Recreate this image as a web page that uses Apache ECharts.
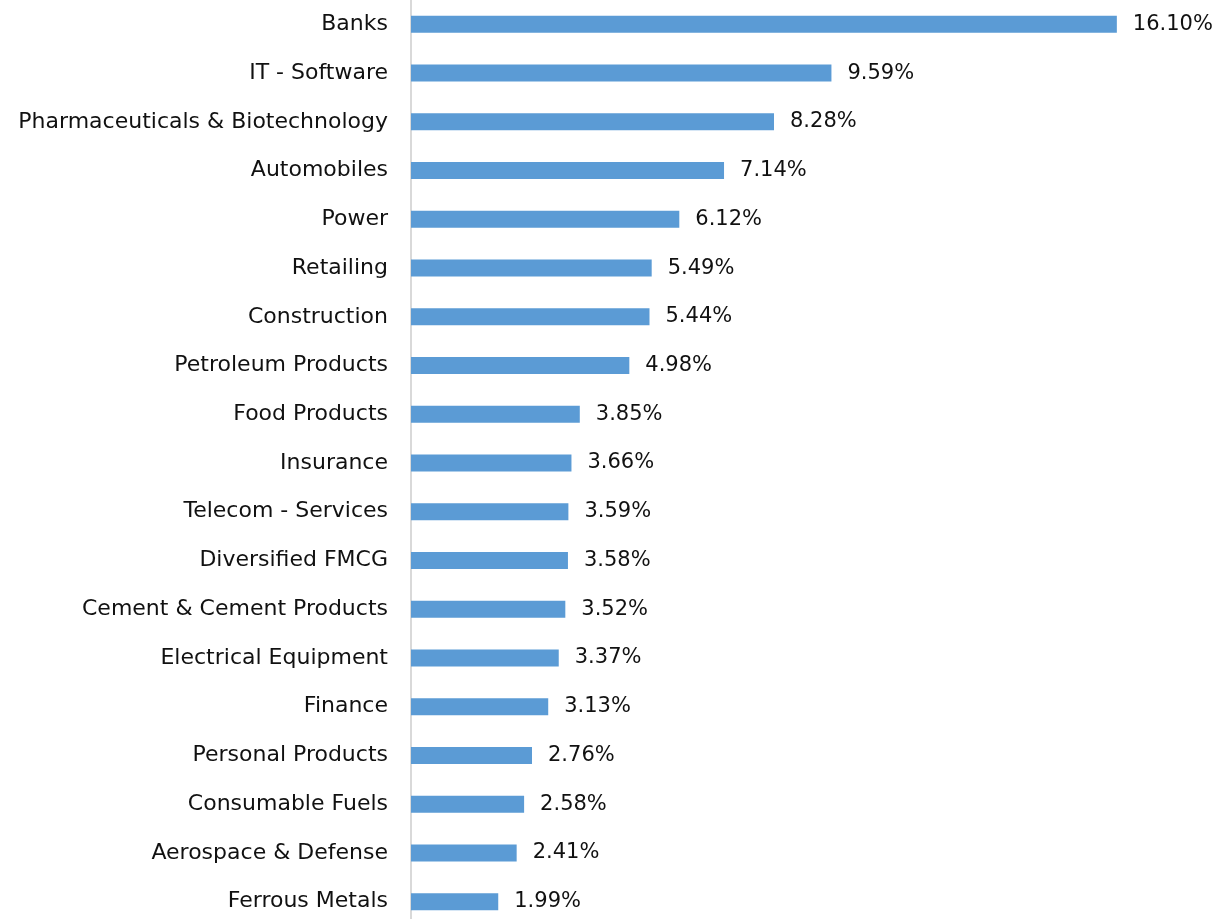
<!DOCTYPE html>
<html>
<head>
<meta charset="utf-8">
<script src="https://cdn.jsdelivr.net/npm/echarts@6/dist/echarts.min.js"></script>
<style>
  html, body { margin: 0; padding: 0; background: #ffffff; }
  #chart { width: 1212px; height: 919px; }
</style>
</head>
<body>
<div id="chart"></div>
<script>
// Sector allocation, listed from largest to smallest weight
const sectors = [
  'Banks', 'IT - Software', 'Pharmaceuticals & Biotechnology', 'Automobiles',
  'Power', 'Retailing', 'Construction', 'Petroleum Products', 'Food Products',
  'Insurance', 'Telecom - Services', 'Diversified FMCG', 'Cement & Cement Products',
  'Electrical Equipment', 'Finance', 'Personal Products', 'Consumable Fuels',
  'Aerospace & Defense', 'Ferrous Metals'
];
const weights = [
  16.10, 9.59, 8.28, 7.14, 6.12, 5.49, 5.44, 4.98, 3.85,
  3.66, 3.59, 3.58, 3.52, 3.37, 3.13, 2.76, 2.58, 2.41, 1.99
];

const FONT = '"DejaVu Sans", sans-serif';
const chart = echarts.init(document.getElementById('chart'), null, { renderer: 'canvas' });

chart.setOption({
  animation: false,
  backgroundColor: '#ffffff',
  grid: {
    left: 411, top: 0, right: 82, bottom: -7,
    containLabel: false,
    outerBoundsMode: 'none'
  },
  xAxis: {
    type: 'value',
    min: 0,
    max: 16.4,
    show: false
  },
  yAxis: {
    type: 'category',
    data: sectors,
    inverse: true,
    axisLine: { show: true, lineStyle: { color: '#d9d9d9', width: 2 } },
    axisTick: { show: false },
    axisLabel: {
      color: '#111111',
      fontFamily: FONT,
      fontSize: 22,
      margin: 23
    },
    splitLine: { show: false }
  },
  series: [{
    type: 'bar',
    data: weights,
    barWidth: 17,
    itemStyle: { color: '#5b9bd5' },
    label: {
      show: true,
      position: 'right',
      distance: 16,
      color: '#111111',
      fontFamily: FONT,
      fontSize: 21,
      formatter: p => p.value.toFixed(2) + '%'
    }
  }]
});
</script>
</body>
</html>
